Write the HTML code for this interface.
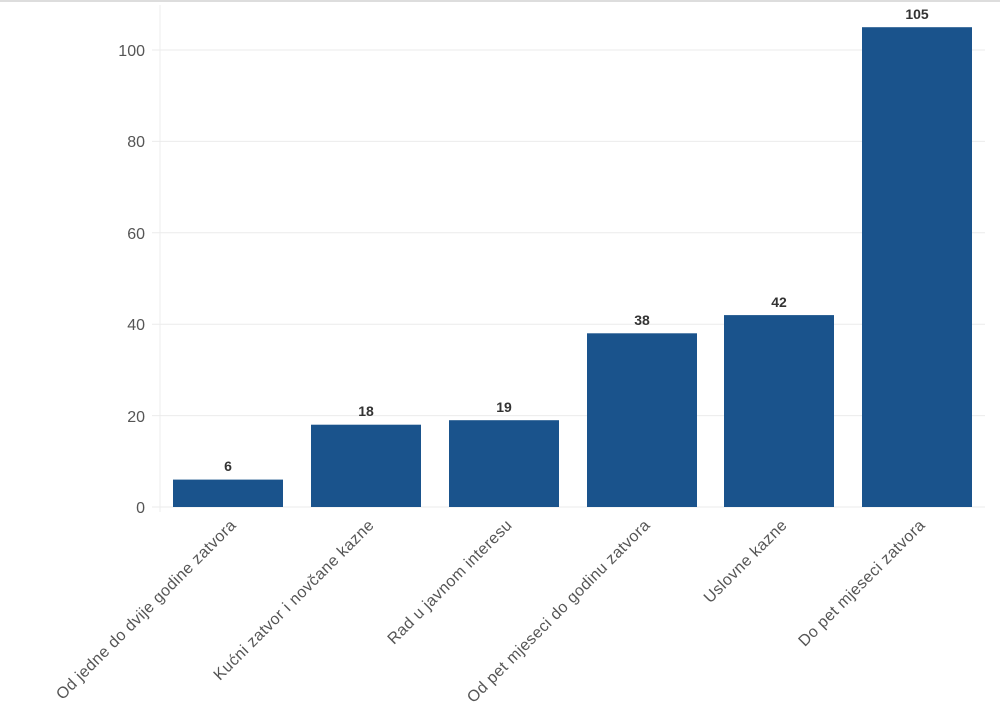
<!DOCTYPE html>
<html><head><meta charset="utf-8"><style>
html,body{margin:0;padding:0;background:#fff;}
svg{display:block;font-family:"Liberation Sans",sans-serif;}
</style></head><body>
<svg width="1000" height="723" viewBox="0 0 1000 723">
<rect width="1000" height="723" fill="#fff"/>
<line x1="0" y1="1" x2="1000" y2="1" stroke="#ddd" stroke-width="2"/>
<line x1="160" y1="5" x2="160" y2="512" stroke="#eee"/>
<g stroke="#ebebeb">
<line x1="152" y1="507" x2="985" y2="507"/>
<line x1="152" y1="415.6" x2="985" y2="415.6"/>
<line x1="152" y1="324.2" x2="985" y2="324.2"/>
<line x1="152" y1="232.8" x2="985" y2="232.8"/>
<line x1="152" y1="141.4" x2="985" y2="141.4"/>
<line x1="152" y1="50" x2="985" y2="50"/>
</g>
<g fill="#555" font-size="16" text-anchor="end">
<text x="145" y="513">0</text>
<text x="145" y="422">20</text>
<text x="145" y="330">40</text>
<text x="145" y="239">60</text>
<text x="145" y="147">80</text>
<text x="145" y="56">100</text>
</g>
<g fill="#1a538c">
<rect x="173" y="479.6" width="110" height="27.4"/>
<rect x="311" y="424.7" width="110" height="82.3"/>
<rect x="449" y="420.2" width="110" height="86.8"/>
<rect x="587" y="333.3" width="110" height="173.7"/>
<rect x="724" y="315.1" width="110" height="191.9"/>
<rect x="862" y="27.2" width="110" height="479.8"/>
</g>
<g fill="#333" font-size="14" font-weight="bold" text-anchor="middle">
<text x="228" y="471">6</text>
<text x="366" y="416">18</text>
<text x="504" y="412">19</text>
<text x="642" y="325">38</text>
<text x="779" y="307">42</text>
<text x="917" y="19">105</text>
</g>
<g fill="#555" font-size="16" letter-spacing="0.4" text-anchor="end">
<text transform="translate(237,526) rotate(-45)">Od jedne do dvije godine zatvora</text>
<text transform="translate(375,526) rotate(-45)">Kućni zatvor i novčane kazne</text>
<text transform="translate(513,526) rotate(-45)">Rad u javnom interesu</text>
<text transform="translate(651,526) rotate(-45)">Od pet mjeseci do godinu zatvora</text>
<text transform="translate(788,526) rotate(-45)">Uslovne kazne</text>
<text transform="translate(926,526) rotate(-45)">Do pet mjeseci zatvora</text>
</g>
</svg>
</body></html>
